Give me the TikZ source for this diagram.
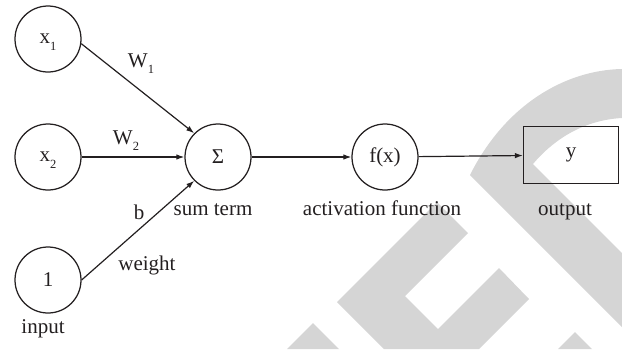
\documentclass[tikz,border=0pt]{standalone}
\usepackage{fontspec}
\setmainfont{Liberation Serif}
\usetikzlibrary{arrows.meta}
\definecolor{wm}{RGB}{213,213,213}
\definecolor{ink}{RGB}{35,31,32}
\newcommand{\sbs}[1]{\raisebox{-0.3em}[0pt][0pt]{\fontsize{12.5}{12.5}\selectfont #1}}
\begin{document}
\begin{tikzpicture}[x=1pt,y=-1pt, font=\fontsize{21}{25}\selectfont,
 every node/.style={text=ink},
 neuron/.style={draw=ink, line width=1.25pt, circle, minimum size=66pt, inner sep=0pt},
 outbox/.style={draw=ink, line width=1.25pt, rectangle, minimum width=95pt, minimum height=57pt, inner sep=0pt},
 conn/.style={draw=ink, line width=1.2pt, -{Latex[length=8pt,width=5.5pt]}},
 lbl/.style={anchor=base, inner sep=0pt}]
\useasboundingbox (0,0) rectangle (622,349);
% watermark
\fill[wm] (437,202) -- (468,233) -- (405,296) -- (438,329) -- (499,268) -- (529,299) -- (479,349) -- (384,349) -- (337,302) -- cycle;
\fill[wm] (287,349) -- (313,323) -- (339,349) -- cycle;
\fill[wm] (558,349) -- (575,332) -- (592,349) -- cycle;
\fill[wm] (470,175) .. controls (505,105) and (565,70) .. (622,69) -- (622,118) .. controls (585,120) and (555,138) .. (533,164) -- (622,253) -- (622,327) -- cycle;
% nodes
\node[neuron] (x1) at (48,39) {x\sbs{1}};
\node[neuron] (x2) at (48,157) {x\sbs{2}};
\node[neuron] (one) at (48,280) {1};
\node[neuron] (sigma) at (218,157) {Σ};
\node[neuron] (fx) at (385,157) {f(x)};
\node[outbox] (y) at (571,155) {y};
% labels
\node[lbl] (w1) at (141,67) {W\sbs{1}};
\node[lbl] (w2) at (126,144) {W\sbs{2}};
\node[lbl] (b) at (139,219) {b};
\node[lbl] (wt) at (147,270) {weight};
\node[lbl] (st) at (213,215) {sum term};
\node[lbl] (af) at (382,215) {activation function};
\node[lbl] (op) at (565,215) {output};
\node[lbl] (in) at (43,333) {input};
% connectors
\draw[conn] (x1.-8) -- (sigma.135);
\draw[conn] (x2) -- (sigma);
\draw[conn] (one.east) -- (sigma.-135);
\draw[conn] (sigma) -- (fx);
\draw[conn] (fx) -- (y);
\end{tikzpicture}
\end{document}
